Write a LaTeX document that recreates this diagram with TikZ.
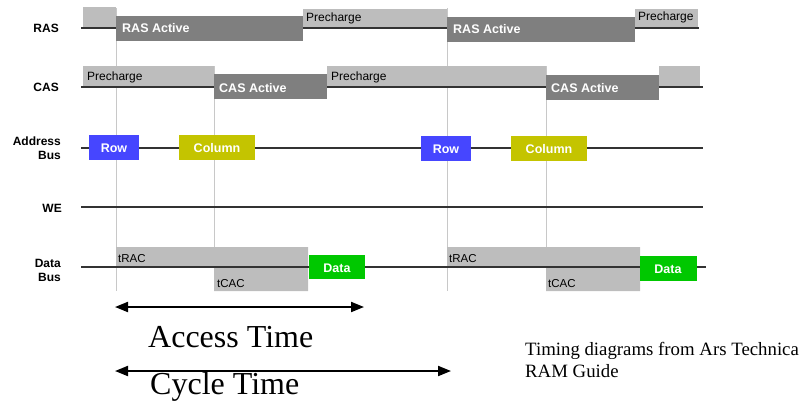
\documentclass[tikz,border=0pt]{standalone}
\usepackage{fontspec}
\setmainfont{Liberation Serif}
\setsansfont{Liberation Sans}
\usetikzlibrary{arrows.meta}
\definecolor{lightg}{HTML}{BDBDBD}
\definecolor{darkg}{HTML}{7F7F7F}
\definecolor{rowblue}{HTML}{4646FF}
\definecolor{cololive}{HTML}{C4C400}
\definecolor{datagreen}{HTML}{00C800}
\definecolor{sigline}{HTML}{333333}
\definecolor{vline}{HTML}{C8C8C8}
\tikzset{
  x=1pt,y=-1pt,
  siglabel/.style={anchor=east,inner sep=0pt,font=\sffamily\bfseries\fontsize{12}{14}\selectfont,align=right},
  boxtext/.style={anchor=west,inner sep=0pt,text=white,font=\sffamily\bfseries\fontsize{12.5}{14}\selectfont},
  phasetext/.style={anchor=west,inner sep=0pt,font=\sffamily\fontsize{12}{14}\selectfont},
  ttext/.style={anchor=west,inner sep=0pt,font=\sffamily\fontsize{11.5}{13}\selectfont},
  ctext/.style={inner sep=0pt,text=white,font=\sffamily\bfseries\fontsize{12.5}{14}\selectfont},
  sig/.style={draw=sigline,line width=2pt},
  guide/.style={draw=vline,line width=0.9pt},
  span/.style={line width=2pt,{Triangle[length=13pt,width=10pt]}-{Triangle[length=13pt,width=10pt]}},
  bigtext/.style={anchor=base west,inner sep=0pt,font=\fontsize{32}{36}\selectfont},
  notetext/.style={anchor=base west,inner sep=0pt,align=left,font=\fontsize{18.8}{22}\selectfont}
}
\begin{document}
\begin{tikzpicture}
\useasboundingbox (0,0) rectangle (802,408);
% guide lines
\foreach \gx/\gy [count=\i] in {116/8,214/66,447/8,546/66}{
  \coordinate (gt\i) at (\gx,\gy);
  \coordinate (gb\i) at (\gx,291);
  \draw[guide] (gt\i) -- (gb\i);
}
% light (precharge) boxes
\fill[lightg] (83,7) rectangle (116,28);
\fill[lightg] (303,9) rectangle (447,28);
\fill[lightg] (635,9) rectangle (698,28);
\fill[lightg] (83,66) rectangle (214,87);
\fill[lightg] (327,66) rectangle (546,87);
\fill[lightg] (659,66) rectangle (700,87);
% data bus gray access window
\fill[lightg] (116,247) -- (308,247) -- (308,291) -- (214,291) -- (214,267) -- (116,267) -- cycle;
\fill[lightg] (447,247) -- (640,247) -- (640,291) -- (546,291) -- (546,267) -- (447,267) -- cycle;
% signal lines
\coordinate (rasL) at (81,28); \coordinate (rasR) at (699,28);
\coordinate (casL) at (81,87); \coordinate (casR) at (703,87);
\coordinate (adL) at (81,148); \coordinate (adR) at (703,148);
\coordinate (weL) at (81,207); \coordinate (weR) at (703,207);
\coordinate (dbL) at (81,267); \coordinate (dbR) at (706,267);
\draw[sig] (rasL) -- (rasR);
\draw[sig] (casL) -- (casR);
\draw[sig] (adL) -- (adR);
\draw[sig] (weL) -- (weR);
\draw[sig] (dbL) -- (dbR);
% dark active boxes
\fill[darkg] (116,16) rectangle (303,41);
\fill[darkg] (447,17) rectangle (635,42);
\fill[darkg] (214,74) rectangle (327,99);
\fill[darkg] (546,75) rectangle (659,100);
% address and data boxes
\fill[rowblue] (89,135) rectangle (139,160);
\fill[cololive] (179,135) rectangle (255,160);
\fill[rowblue] (421,136) rectangle (471,161);
\fill[cololive] (511,136) rectangle (587,161);
\fill[datagreen] (309,255) rectangle (365,279);
\fill[datagreen] (640,256) rectangle (697,281);
% box texts
\node[boxtext] (ra1) at (122,28) {RAS Active};
\node[boxtext] (ra2) at (453,29) {RAS Active};
\node[boxtext] (ca1) at (219,88) {CAS Active};
\node[boxtext] (ca2) at (551,88) {CAS Active};
\node[phasetext] (pr1) at (306,18) {Precharge};
\node[phasetext] (pr2) at (638,17) {Precharge};
\node[phasetext] (pc1) at (87,77) {Precharge};
\node[phasetext] (pc2) at (331,77) {Precharge};
\node[ctext] (row1) at (114,148) {Row};
\node[ctext] (col1) at (217,148) {Column};
\node[ctext] (row2) at (446,149) {Row};
\node[ctext] (col2) at (549,149) {Column};
\node[ctext] (dat1) at (337,268) {Data};
\node[ctext] (dat2) at (668,269) {Data};
\node[ttext] (trac1) at (118,259) {tRAC};
\node[ttext] (tcac1) at (217,284) {tCAC};
\node[ttext] (trac2) at (449,259) {tRAC};
\node[ttext] (tcac2) at (548,284) {tCAC};
% signal labels
\node[siglabel] (lras) at (59,28) {RAS};
\node[siglabel] (lcas) at (59,87) {CAS};
\node[siglabel] (ladr) at (61,148) {Address\\Bus};
\node[siglabel] (lwe) at (62,208) {WE};
\node[siglabel] (ldat) at (61,270) {Data\\Bus};
% spans
\coordinate (acL) at (115,307); \coordinate (acR) at (364,307);
\coordinate (cyL) at (115,371); \coordinate (cyR) at (451,371);
\draw[span] (acL) -- (acR);
\draw[span] (cyL) -- (cyR);
\node[bigtext] (acc) at (148,347) {Access Time};
\node[bigtext] (cyc) at (150,394) {Cycle Time};
\node[notetext] (note) at (525,377) {Timing diagrams from Ars Technica\\RAM Guide};
\end{tikzpicture}
\end{document}
